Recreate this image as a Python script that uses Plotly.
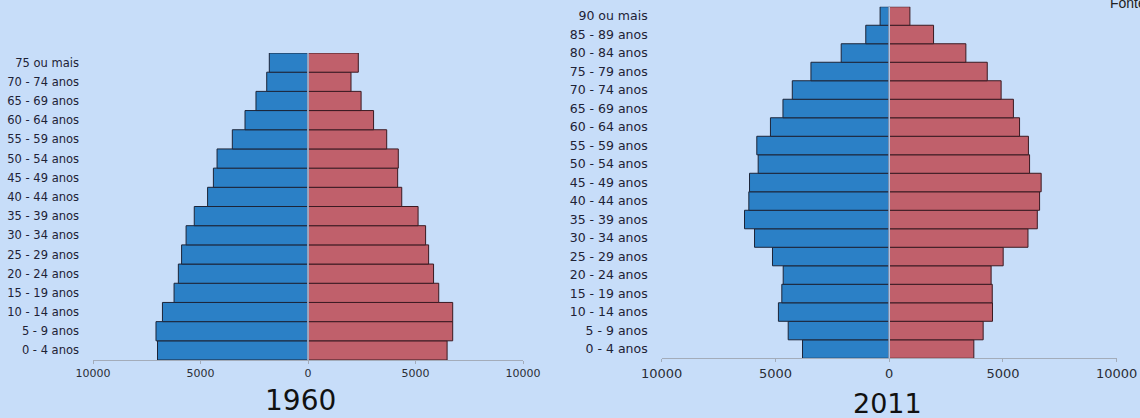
import plotly.graph_objects as go

W, H = 1140, 418

# ---- data ----
cats_1960 = ["0 - 4 anos", "5 - 9 anos", "10 - 14 anos", "15 - 19 anos", "20 - 24 anos",
             "25 - 29 anos", "30 - 34 anos", "35 - 39 anos", "40 - 44 anos", "45 - 49 anos",
             "50 - 54 anos", "55 - 59 anos", "60 - 64 anos", "65 - 69 anos", "70 - 74 anos",
             "75 ou mais"]
homens_1960 = [7000, 7070, 6770, 6230, 6030, 5880, 5670, 5290, 4670, 4400,
               4230, 3520, 2930, 2420, 1920, 1800]
mulheres_1960 = [6470, 6730, 6730, 6080, 5840, 5610, 5470, 5120, 4360, 4170,
                 4200, 3660, 3050, 2470, 2000, 2340]

cats_2011 = ["0 - 4 anos", "5 - 9 anos", "10 - 14 anos", "15 - 19 anos", "20 - 24 anos",
             "25 - 29 anos", "30 - 34 anos", "35 - 39 anos", "40 - 44 anos", "45 - 49 anos",
             "50 - 54 anos", "55 - 59 anos", "60 - 64 anos", "65 - 69 anos", "70 - 74 anos",
             "75 - 79 anos", "80 - 84 anos", "85 - 89 anos", "90 ou mais"]
homens_2011 = [3810, 4440, 4870, 4720, 4660, 5130, 5920, 6360, 6170, 6140,
               5760, 5820, 5220, 4670, 4260, 3440, 2110, 1030, 400]
mulheres_2011 = [3720, 4130, 4540, 4530, 4480, 5010, 6100, 6510, 6610, 6680,
                 6170, 6120, 5730, 5460, 4920, 4310, 3370, 1950, 910]

tick_vals = [-10000, -5000, 0, 5000, 10000]
tick_text = ["10000", "5000", "0", "5000", "10000"]

BLUE = "#2b80c6"
RED = "#c0606b"
BG = "#c7ddf9"
EDGE_B = "#1c2438"
EDGE_R = "#3a1a22"

fig = go.Figure()

fig.add_trace(go.Bar(y=cats_1960, x=[-v for v in homens_1960], orientation="h",
                     marker=dict(color=BLUE, line=dict(color=EDGE_B, width=1)),
                     xaxis="x", yaxis="y", hoverinfo="skip"))
fig.add_trace(go.Bar(y=cats_1960, x=mulheres_1960, orientation="h",
                     marker=dict(color=RED, line=dict(color=EDGE_R, width=1)),
                     xaxis="x", yaxis="y", hoverinfo="skip"))
fig.add_trace(go.Bar(y=cats_2011, x=[-v for v in homens_2011], orientation="h",
                     marker=dict(color=BLUE, line=dict(color=EDGE_B, width=1)),
                     xaxis="x2", yaxis="y2", hoverinfo="skip"))
fig.add_trace(go.Bar(y=cats_2011, x=mulheres_2011, orientation="h",
                     marker=dict(color=RED, line=dict(color=EDGE_R, width=1)),
                     xaxis="x2", yaxis="y2", hoverinfo="skip"))

def xax(size):
    return dict(range=[-10000, 10000], tickvals=tick_vals, ticktext=tick_text,
                showgrid=False, zeroline=False, showline=True, linecolor="#a3acba",
                linewidth=1, ticks="outside", ticklen=3, tickcolor="#a3acba",
                tickfont=dict(family="DejaVu Sans, sans-serif", size=size, color="#2a2d36"),
                automargin=False, fixedrange=True)

def yax(size):
    return dict(showgrid=False, zeroline=False, showline=False, ticks="",
                tickfont=dict(family="DejaVu Sans, sans-serif", size=size, color="#1e2236"),
                type="category", ticklabelstandoff=13, automargin=False, fixedrange=True)

fig.update_layout(
    width=W, height=H,
    margin=dict(l=0, r=0, t=0, b=0, pad=0),
    paper_bgcolor=BG, plot_bgcolor=BG,
    barmode="relative", bargap=0.0,
    showlegend=False,
    xaxis=dict(domain=[93 / W, 523 / W], anchor="y", **xax(11)),
    yaxis=dict(domain=[1 - 360 / H, 1 - 53 / H], anchor="x",
               categoryorder="array", categoryarray=cats_1960, **yax(11.5)),
    xaxis2=dict(domain=[661.7 / W, 1116.7 / W], anchor="y2", **xax(13)),
    yaxis2=dict(domain=[1 - 358.3 / H, 1 - 6.75 / H], anchor="x2",
                categoryorder="array", categoryarray=cats_2011, **yax(12.5)),
    shapes=[
        dict(type="line", xref="x", yref="y domain", x0=0, x1=0, y0=0, y1=1,
             line=dict(color="#b3c9e6", width=1.5)),
        dict(type="line", xref="x2", yref="y2 domain", x0=0, x1=0, y0=0, y1=1,
             line=dict(color="#b3c9e6", width=1.5)),
    ],
    annotations=[
        dict(text="1960", xref="paper", yref="paper", x=300.8 / W, y=1 - 400 / H,
             xanchor="center", yanchor="middle", showarrow=False,
             font=dict(family="DejaVu Sans, sans-serif", size=28, color="#111111")),
        dict(text="2011", xref="paper", yref="paper", x=887.5 / W, y=1 - 403.7 / H,
             xanchor="center", yanchor="middle", showarrow=False,
             font=dict(family="DejaVu Sans, sans-serif", size=27, color="#111111")),
        dict(text="Fonte: IBGE", xref="paper", yref="paper", x=1108 / W, y=1 - 13 / H,
             xanchor="left", yanchor="bottom", showarrow=False,
             font=dict(family="Liberation Sans, Arial, sans-serif", size=14, color="#222222")),
    ],
)

fig.write_html("out.html", config={"displayModeBar": False, "staticPlot": True},
               post_script="document.body.style.margin='0';")
